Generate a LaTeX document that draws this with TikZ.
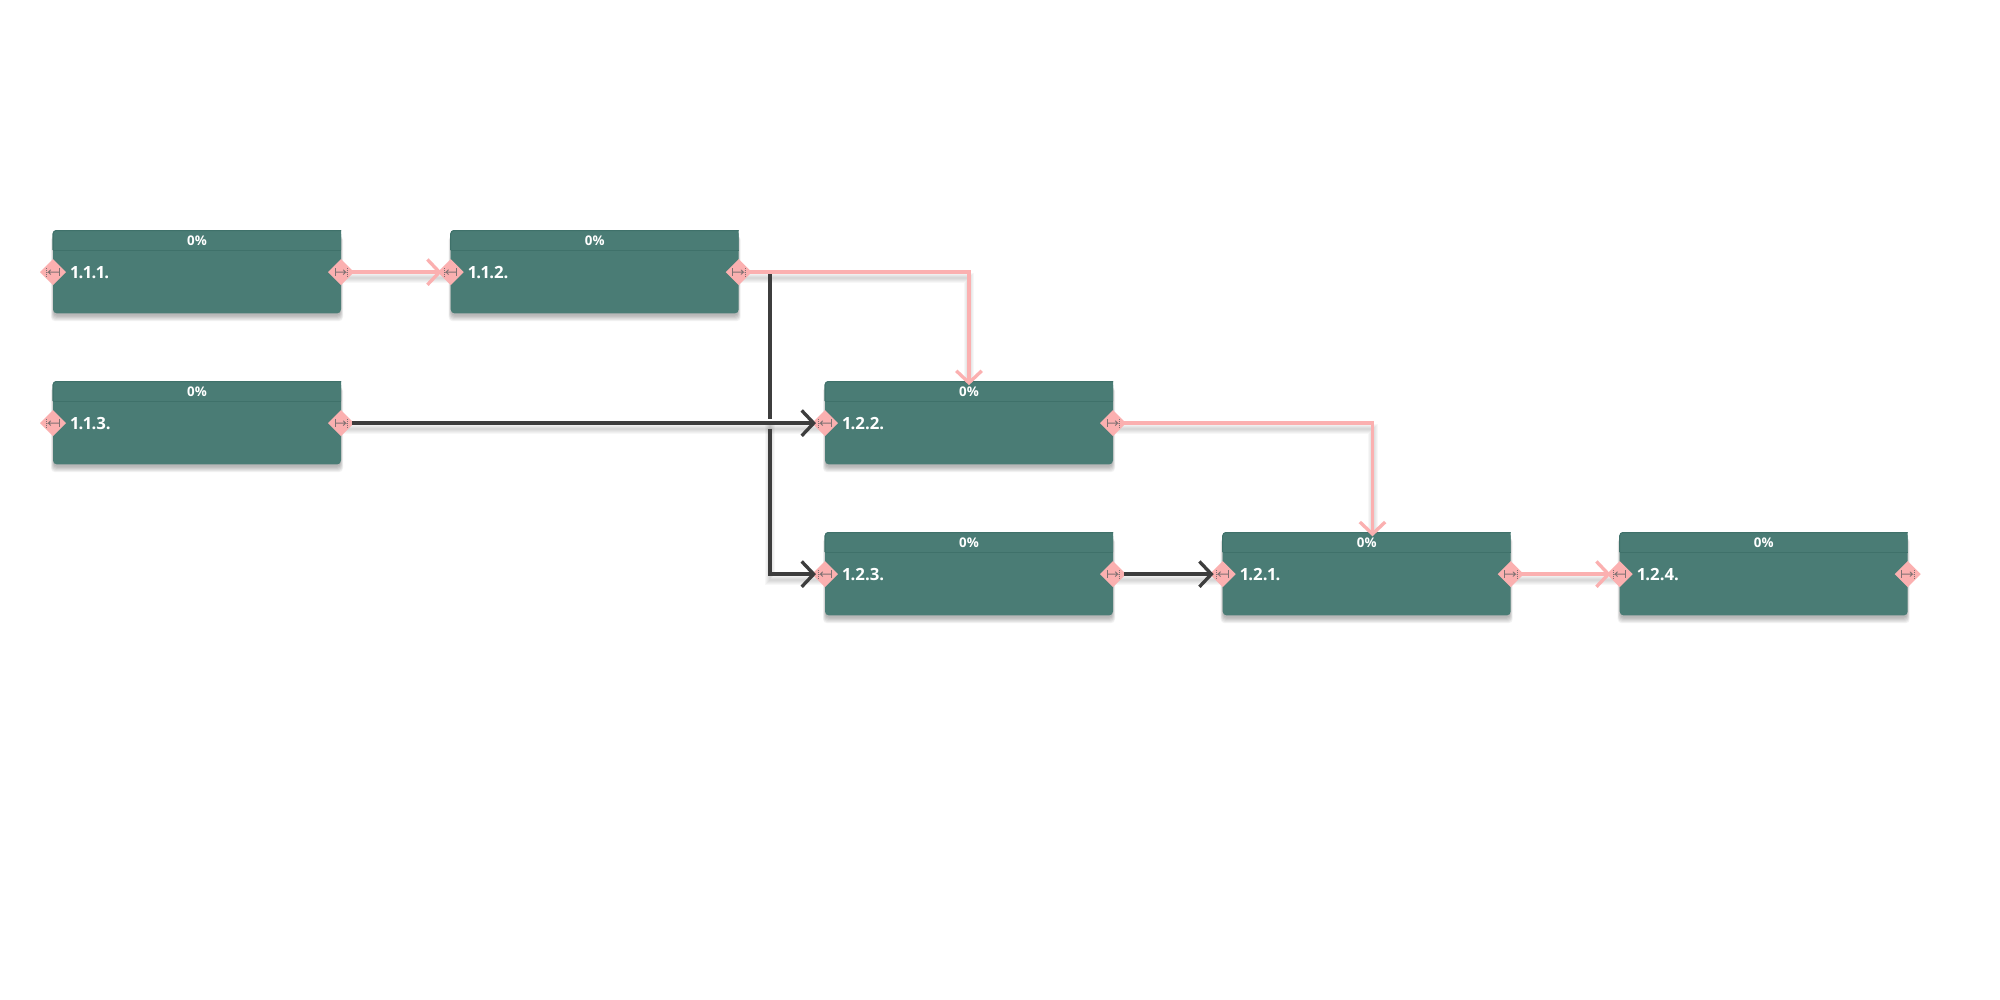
\documentclass[tikz,border=0pt]{standalone}
\usepackage{fontspec}
\setmainfont[Numbers=Proportional]{Open Sans}
\usetikzlibrary{arrows.meta,shapes.geometric}
\pgfdeclarelayer{under}
\pgfsetlayers{under,main}
\definecolor{bodyc}{HTML}{4A7C75}
\definecolor{headc}{HTML}{4A7C75}
\definecolor{edgec}{HTML}{3F716A}
\definecolor{pinkc}{HTML}{FBB0B0}
\definecolor{darkc}{HTML}{3D3D3D}
\definecolor{iconc}{HTML}{7F7172}
\tikzset{
  x=0.75pt,y=-0.75pt,
  taskbox/.style={rectangle,fill=bodyc,rounded corners=3pt,minimum width=216pt,minimum height=62.5pt,inner sep=0pt,outer sep=0pt},
  portd/.style={diamond,fill=pinkc,minimum width=19.5pt,minimum height=19.5pt,inner sep=0pt,outer sep=0pt},
  pct/.style={text=white,font=\fontsize{10pt}{11pt}\selectfont\bfseries,inner sep=0pt},
  lbl/.style={text=white,font=\fontsize{12.6pt}{14pt}\selectfont\bfseries,inner sep=0pt,anchor=west},
  conn/.style={line width=2.5pt,shorten >=-3pt,-{Straight Barb[length=9pt,width=19pt,line width=2.5pt]}},
  pinkl/.style={conn,draw=pinkc},
  darkl/.style={conn,draw=darkc},
  shad/.style={draw=black,opacity=.03},
  icon/.style={draw=iconc,line width=.6pt},
}
\newcommand\taskbox[4]{% name, cx, cy(box centre), label
  \begin{pgfonlayer}{under}
  \foreach \e in {1,2,...,6}{
    \fill[black,opacity=.05,rounded corners=3pt] (#2-146.5+\e*.5,#3-36) rectangle (#2+146.5-\e*.5,#3+50.5-\e*1.1);
  }
  \end{pgfonlayer}
  \node[taskbox] (#1) at (#2,#3) {};
  \fill[headc] ([yshift=-15pt]#1.north west) [rounded corners=2.5pt] -- (#1.north west) [sharp corners] -- (#1.north east) -- ([yshift=-15pt]#1.north east) -- cycle;
  \draw[edgec,line width=.8pt] ([yshift=-15pt]#1.north west) [rounded corners=2.5pt] -- ([yshift=-.3pt]#1.north west) [sharp corners] -- ([yshift=-.3pt]#1.north east);
  \draw[edgec,line width=1pt] ([yshift=-15.4pt]#1.north west) -- ([yshift=-15.4pt]#1.north east);
  \node[pct] (#1p) at ([yshift=-8.2pt]#1.north) {0\%};
  \node[portd] (#1l) at ([yshift=-31.5pt]#1.north west) {};
  \node[portd] (#1r) at ([yshift=-31.5pt]#1.north east) {};
  \draw[icon,dash pattern=on .8pt off .6pt] ([xshift=-5pt,yshift=3pt]#1l.center) -- ++(0,-6pt);
  \draw[icon] ([xshift=4.5pt,yshift=3pt]#1l.center) -- ++(0,-6pt);
  \draw[icon] ([xshift=4.5pt]#1l.center) -- ([xshift=-3.6pt]#1l.center) -- ++(2pt,1.8pt) ([xshift=-3.6pt]#1l.center) -- ++(2pt,-1.8pt);
  \draw[icon] ([xshift=-4.5pt,yshift=3pt]#1r.center) -- ++(0,-6pt);
  \draw[icon,dash pattern=on .8pt off .6pt] ([xshift=5pt,yshift=3pt]#1r.center) -- ++(0,-6pt);
  \draw[icon] ([xshift=-4.5pt]#1r.center) -- ([xshift=3.6pt]#1r.center) -- ++(-2pt,1.8pt) ([xshift=3.6pt]#1r.center) -- ++(-2pt,-1.8pt);
  \node[lbl] (#1t) at ([xshift=13pt,yshift=-31.8pt]#1.north west) {#4};
}
% soft shadow under a connector
\newcommand\softline[1]{%
  \begin{pgfonlayer}{under}
  \foreach \w in {1.5,3,4.5,6,7.5}{
    \draw[shad,line width=\w pt,transform canvas={yshift=-4.5pt}] #1;
  }
  \end{pgfonlayer}
}
\begin{document}
\begin{tikzpicture}
\useasboundingbox (0,0) rectangle (2000,1000);
\begin{pgfonlayer}{under}
\fill[white] (0,0) rectangle (2000,1000);
\end{pgfonlayer}
\taskbox{a}{197}{271.8}{1.1.1.}
\taskbox{b}{594.7}{271.8}{1.1.2.}
\taskbox{c}{197}{422.8}{1.1.3.}
\taskbox{d}{969}{422.8}{1.2.2.}
\taskbox{e}{969}{573.8}{1.2.3.}
\taskbox{f}{1366.7}{573.8}{1.2.1.}
\taskbox{g}{1763.7}{573.8}{1.2.4.}
\coordinate (kn1) at (770,272.3);
\coordinate (gap1) at (770,418.5);
\coordinate (gap2) at (770,428.5);
\coordinate (p1) at (1372.5,532.3);
\softline{(ar.center) -- (bl.center)}
\softline{(br.center) -| (d.north)}
\softline{(cr.center) -- (dl.center)}
\softline{(gap1) |- (el.center)}
\softline{(er.center) -- (fl.center)}
\softline{(dr.center) -| (p1)}
\softline{(fr.center) -- (gl.center)}
\draw[darkc,line width=2.5pt] (kn1) -- (gap1);
\draw[darkl] (gap2) |- (el.west);
\draw[darkl] ([xshift=-1.5pt]cr.east) -- (dl.west);
\draw[darkl] ([xshift=-1.5pt]er.east) -- (fl.west);
\draw[pinkl] ([xshift=-1.5pt]ar.east) -- (bl.west);
\draw[pinkl] ([xshift=-1.5pt]br.east) -| (d.north);
\draw[pinkl] ([xshift=-1.5pt]dr.east) -| (p1);
\draw[pinkl] ([xshift=-1.5pt]fr.east) -- (gl.west);
\end{tikzpicture}
\end{document}
